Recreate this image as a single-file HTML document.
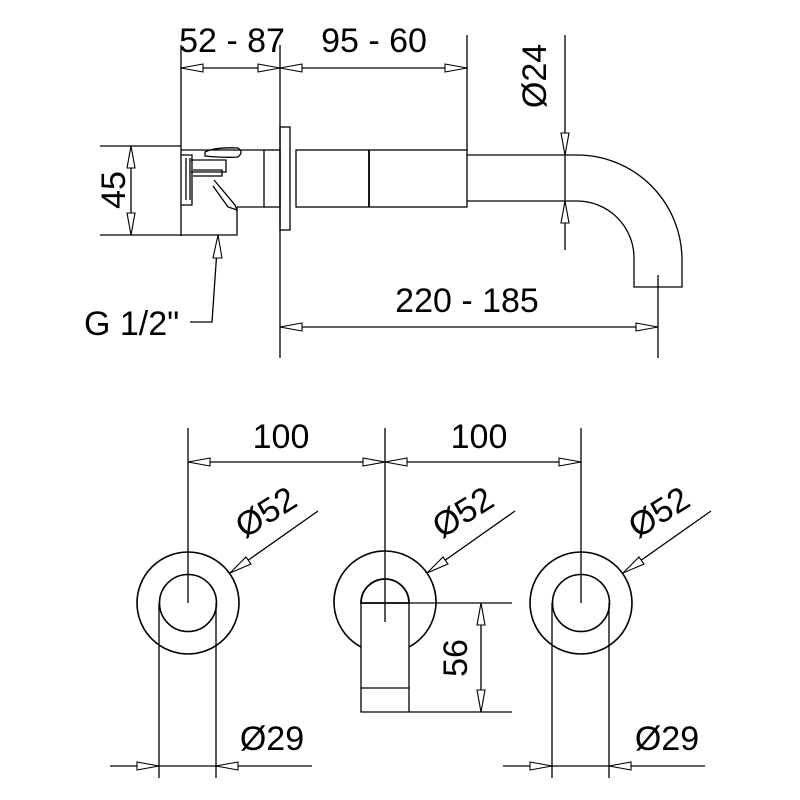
<!DOCTYPE html>
<html><head><meta charset="utf-8"><style>html,body{margin:0;padding:0;background:#fff}svg{display:block}text{font-family:"Liberation Sans",sans-serif;fill:#000}</style></head>
<body>
<svg width="800" height="800" viewBox="0 0 800 800" xmlns="http://www.w3.org/2000/svg">
<g stroke="#000" stroke-width="1.3" fill="none">
<line x1="181" y1="45" x2="181" y2="236"/>
<line x1="280" y1="45" x2="280" y2="358"/>
<line x1="467" y1="35" x2="467" y2="150"/>
<line x1="181" y1="68" x2="467" y2="68"/>
<line x1="565" y1="35" x2="565" y2="250"/>
<path d="M467 155 H577 A105 105 0 0 1 682 260 V287 H634 V258 A57 57 0 0 0 577 201 H467"/>
<line x1="658" y1="275" x2="658" y2="358"/>
<line x1="280" y1="327" x2="658" y2="327"/>
<rect x="296" y="150" width="171" height="57"/>
<line x1="369" y1="150" x2="369" y2="207" stroke-width="1.8"/>
<rect x="280" y="127" width="10" height="103"/>
<rect x="264" y="150" width="16" height="57"/>
<path d="M181 150 H264 M237 207 H264 M237 207 V235 H100 M100 146 H181"/>
<path d="M181 155 H192 V205 H181 M186 158 V200 M190 158 V200"/>
<path d="M191 160 H226 V172 H191 M193 170 H222 V176 H193"/>
<path d="M205 152 Q215 147 238 148 Q244 152 238 157 Q225 158 205 156 Z"/>
<path d="M214 180 L235 205 L237 210 L228 207 L213 186"/>
<line x1="131" y1="146" x2="131" y2="235"/>
<path d="M218 235 L212 322 H190"/>
<line x1="188" y1="428" x2="188" y2="603"/>
<line x1="385" y1="428" x2="385" y2="622"/>
<line x1="581" y1="428" x2="581" y2="603"/>
<line x1="188" y1="462" x2="581" y2="462"/>
<circle cx="188" cy="603" r="51" stroke-width="1.6"/>
<circle cx="188" cy="603" r="28.5" stroke-width="1.6"/>
<circle cx="581" cy="603" r="51" stroke-width="1.6"/>
<circle cx="581" cy="603" r="28.5" stroke-width="1.6"/>
<path d="M361 647 A51 51 0 1 1 409 647" stroke-width="1.6"/>
<path d="M361 603 A24 24 0 0 1 409 603 Z" stroke-width="1.8"/>
<path d="M361 603 V712 H409 V603 M361 688 H409"/>
<line x1="409" y1="603" x2="512" y2="603"/>
<line x1="409" y1="712" x2="512" y2="712"/>
<line x1="481" y1="603" x2="481" y2="712"/>
<line x1="318" y1="511" x2="230" y2="573"/>
<line x1="515" y1="511" x2="427" y2="573"/>
<line x1="711" y1="511" x2="623" y2="573"/>
<line x1="159" y1="603" x2="159" y2="778"/>
<line x1="216" y1="603" x2="216" y2="778"/>
<line x1="110" y1="766" x2="312" y2="766"/>
<line x1="552" y1="603" x2="552" y2="778"/>
<line x1="609" y1="603" x2="609" y2="778"/>
<line x1="503" y1="766" x2="705" y2="766"/>
</g>
<g stroke="#000" stroke-width="1.1" fill="#fff">
<polygon points="181,68 203,64 203,72"/>
<polygon points="280,68 258,64 258,72"/>
<polygon points="280,68 302,64 302,72"/>
<polygon points="467,68 445,64 445,72"/>
<polygon points="565,155 561,133 569,133"/>
<polygon points="565,201 561,223 569,223"/>
<polygon points="280,327 302,323 302,331"/>
<polygon points="658,327 636,323 636,331"/>
<polygon points="131,146 127,168 135,168"/>
<polygon points="131,235 127,213 135,213"/>
<polygon points="218,235 213,258 222,258"/>
<polygon points="188,462 210,458 210,466"/>
<polygon points="385,462 363,458 363,466"/>
<polygon points="385,462 407,458 407,466"/>
<polygon points="581,462 559,458 559,466"/>
<polygon points="481,603 477,625 485,625"/>
<polygon points="481,712 477,690 485,690"/>
<polygon points="230,573 246,557 251,564"/>
<polygon points="427,573 443,557 448,564"/>
<polygon points="623,573 639,557 644,564"/>
<polygon points="159,766 137,762 137,770"/>
<polygon points="216,766 238,762 238,770"/>
<polygon points="552,766 530,762 530,770"/>
<polygon points="609,766 631,762 631,770"/>
</g>
<g font-size="34">
<text x="232" y="52" text-anchor="middle">52 - 87</text>
<text x="374" y="52" text-anchor="middle">95 - 60</text>
<text x="467" y="312" text-anchor="middle">220 - 185</text>
<text transform="translate(546,76) rotate(-90)" text-anchor="middle">Ø24</text>
<text transform="translate(125,190) rotate(-90)" text-anchor="middle">45</text>
<text x="84" y="335">G 1/2"</text>
<text x="281" y="448" text-anchor="middle">100</text>
<text x="479" y="448" text-anchor="middle">100</text>
<text transform="translate(272,522) rotate(-32)" text-anchor="middle">Ø52</text>
<text transform="translate(469,522) rotate(-32)" text-anchor="middle">Ø52</text>
<text transform="translate(665,522) rotate(-32)" text-anchor="middle">Ø52</text>
<text transform="translate(467,658) rotate(-90)" text-anchor="middle">56</text>
<text x="272" y="750" text-anchor="middle">Ø29</text>
<text x="667" y="750" text-anchor="middle">Ø29</text>
</g>
</svg>
</body></html>
